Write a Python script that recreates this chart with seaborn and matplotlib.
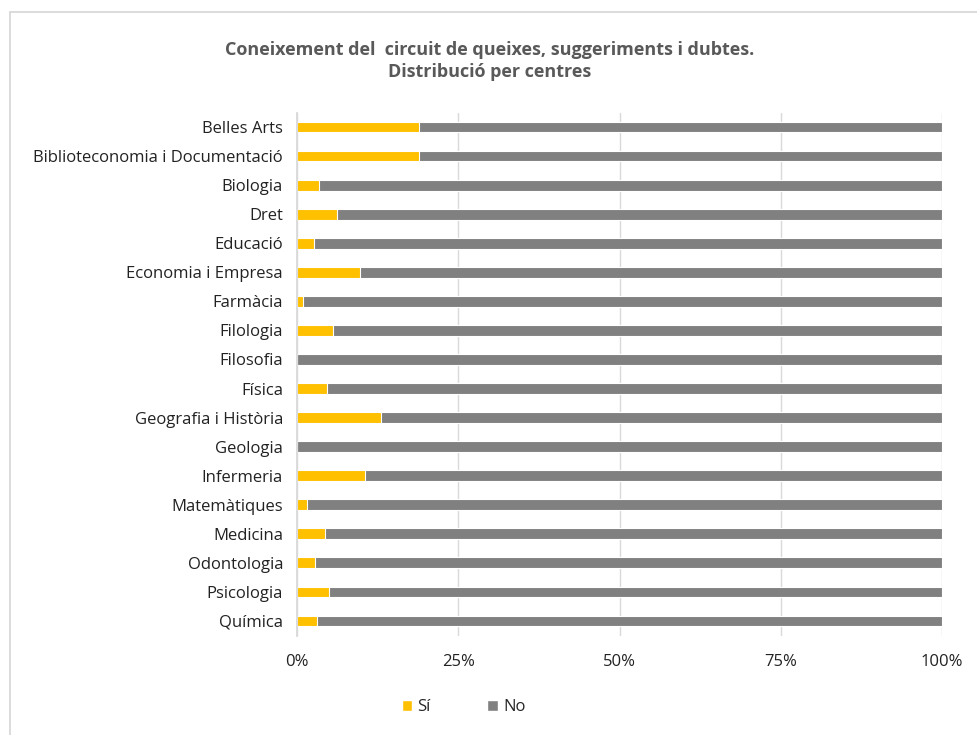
import numpy as np
import pandas as pd
import matplotlib
matplotlib.use('Agg')
import matplotlib.pyplot as plt
import seaborn as sns
from matplotlib.lines import Line2D
from matplotlib.patches import Patch
from matplotlib.ticker import PercentFormatter, FixedLocator


# Data
centres = ['Belles Arts', 'Biblioteconomia i Documentació', 'Biologia', 'Dret',
           'Educació', 'Economia i Empresa', 'Farmàcia', 'Filologia', 'Filosofia',
           'Física', 'Geografia i Història', 'Geologia', 'Infermeria',
           'Matemàtiques', 'Medicina', 'Odontologia', 'Psicologia', 'Química']
si_pct = [18.9, 18.9, 3.4, 6.2, 2.7, 9.7, 0.9, 5.6, 0.0,
          4.6, 13.1, 0.0, 10.6, 1.5, 4.4, 2.8, 5.0, 3.1]
no_pct = [100 - v for v in si_pct]

title = 'Coneixement del  circuit de queixes, suggeriments i dubtes.\nDistribució per centres'
xticks = [0, 25, 50, 75, 100]

YELLOW = '#FFC000'
GREY = '#808080'


def main():
    df = pd.DataFrame({'centre': centres, 'si': si_pct, 'no': no_pct})
    df['total'] = df.si + df.no

    sns.set_style('white')
    plt.rcParams['font.family'] = ['Open Sans', 'DejaVu Sans']

    fig = plt.figure(figsize=(9.78, 7.35), dpi=100)
    ax = fig.add_axes([297 / 978, 1 - 635.5 / 735, 645 / 978, 523 / 735])

    # stacked: draw full bar (No) first, then Sí on top from 0
    sns.barplot(data=df, x='total', y='centre', orient='h', color=GREY,
                saturation=1, width=0.37, edgecolor='white', linewidth=0.8, ax=ax)
    sns.barplot(data=df, x='si', y='centre', orient='h', color=YELLOW,
                saturation=1, width=0.37, edgecolor='white', linewidth=0.8, ax=ax)

    ax.set_xlim(0, 100)
    ax.set_ylim(len(centres) - 0.5, -0.5)
    ax.set_xlabel('')
    ax.set_ylabel('')
    ax.xaxis.set_major_locator(FixedLocator(xticks))
    ax.xaxis.set_major_formatter(PercentFormatter(decimals=0))
    ax.grid(axis='x', color='#d9d9d9', linewidth=1)
    ax.set_axisbelow(True)

    for s in ['top', 'right', 'bottom']:
        ax.spines[s].set_visible(False)
    ax.spines['left'].set_color('#d9d9d9')
    ax.spines['left'].set_linewidth(1.3)

    ax.tick_params(axis='x', length=0, labelsize=12, labelcolor='#222222', pad=13)
    ax.tick_params(axis='y', which='major', length=0, labelsize=12,
                   labelcolor='#222222', pad=10)
    ax.yaxis.set_minor_locator(FixedLocator(np.arange(len(centres) + 1) - 0.5))
    ax.tick_params(axis='y', which='minor', length=5, width=1.3, color='#d9d9d9')

    fig.text(0.5005, 1 - 61 / 735, title, ha='center', va='center',
             multialignment='center', fontsize=13, fontweight='bold',
             color='#595959', linespacing=1.3)

    handles = [Patch(facecolor=YELLOW), Patch(facecolor=GREY)]
    fig.legend(handles, ['Sí', 'No'], loc='center', ncol=2,
               bbox_to_anchor=(0.474, 1 - 707 / 735), frameon=False,
               fontsize=12, handlelength=0.65, handleheight=0.65,
               handletextpad=0.3, columnspacing=3.4)

    # chart-area border (only left and top show inside the image)
    fig.add_artist(Line2D([9.5 / 978, 9.5 / 978], [0, 1 - 12 / 735],
                          color='#d9d9d9', linewidth=1.3))
    fig.add_artist(Line2D([9.5 / 978, 1], [1 - 12 / 735, 1 - 12 / 735],
                          color='#d9d9d9', linewidth=1.3))

    fig.savefig('out.png', dpi=100, facecolor='white')


if __name__ == "__main__":
    main()
